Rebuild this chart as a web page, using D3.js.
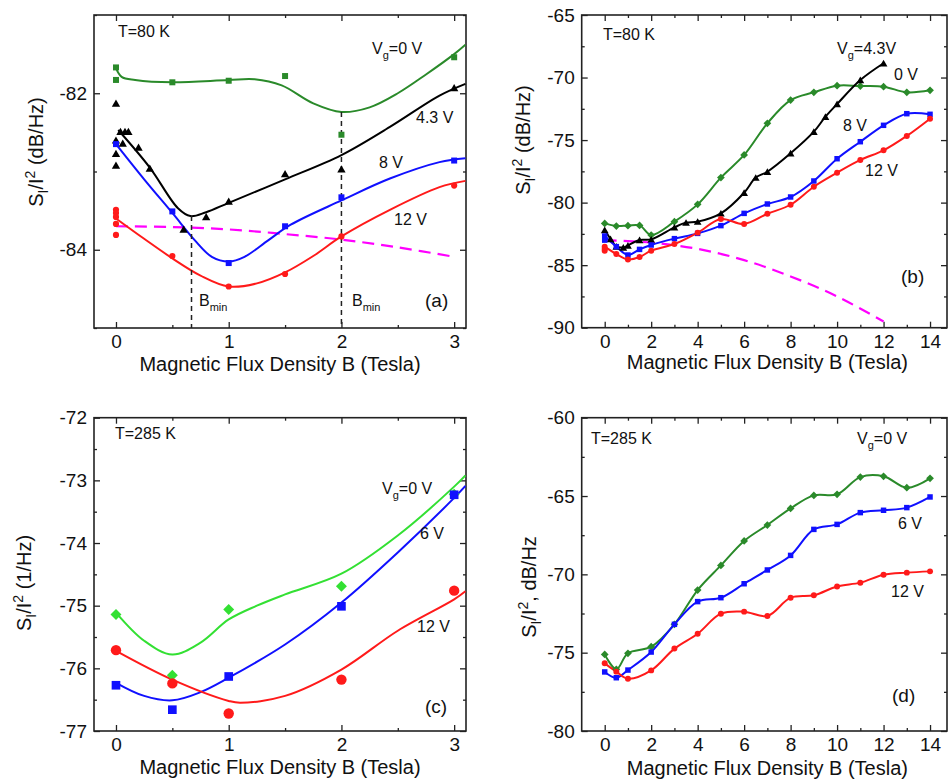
<!DOCTYPE html>
<html><head><meta charset="utf-8">
<script src="https://cdn.jsdelivr.net/npm/d3@7"></script>
<style>body{margin:0;background:#fff}svg{display:block;font-family:"Liberation Sans",Arial,sans-serif}</style>
</head><body>
<script>
// ---------- Panel (a): T=80 K, low field ----------
const aGreenPts = [[0,-81.67],[0,-81.83],[0.5,-81.86],[1,-81.84],[1.5,-81.78],[2,-82.53],[3,-81.54]];
const aBlackPts = [[0,-82.13],[0,-82.6],[0,-82.77],[0,-82.92],[0.04,-82.49],[0.08,-82.49],[0.11,-82.49],[0.06,-82.64],[0.2,-82.69],[0.3,-82.96],[0.6,-83.74],[0.8,-83.58],[1,-83.38],[1.5,-83.03],[2,-82.97],[3,-81.93]];
const aBluePts = [[0,-82.65],[0.5,-83.51],[1,-84.17],[1.5,-83.70],[2,-83.33],[3,-82.86]];
const aRedPts = [[0,-83.49],[0,-83.53],[0,-83.58],[0,-83.67],[0,-83.81],[0.5,-84.08],[1,-84.47],[1.5,-84.31],[2,-83.83],[3,-83.18]];
const aGreenFit = [[0,-81.68],[0.05,-81.79],[0.17,-81.83],[0.5,-81.86],[1,-81.83],[1.23,-81.82],[1.47,-81.9],[1.75,-82.13],[2,-82.24],[2.25,-82.18],[2.5,-82.0],[2.75,-81.76],[3,-81.5],[3.1,-81.38]];
const aBlackFit = [[0.02,-82.47],[0.3,-82.95],[0.55,-83.47],[0.66,-83.57],[0.8,-83.52],[1,-83.4],[1.5,-83.1],[2,-82.79],[2.43,-82.43],[2.87,-82.03],[3.1,-81.88]];
const aBlueFit = [[0,-82.65],[0.25,-83.1],[0.5,-83.53],[0.7,-83.88],[0.85,-84.09],[1,-84.15],[1.14,-84.09],[1.35,-83.88],[1.55,-83.68],[2,-83.37],[2.43,-83.09],[2.87,-82.88],[3.1,-82.83]];
const aRedFit = [[0,-83.6],[0.25,-83.86],[0.5,-84.11],[0.75,-84.33],[1,-84.47],[1.25,-84.43],[1.5,-84.29],[1.75,-84.08],[2,-83.83],[2.43,-83.49],[2.87,-83.2],[3.1,-83.12]];
const aMagenta = [[0,-83.70],[0.5,-83.71],[1,-83.74],[1.5,-83.80],[2,-83.87],[2.5,-83.97],[3,-84.09]];
const aBminX = [0.67, 2];
const aBminTop = [-83.57, -82.24];

// ---------- Panel (b): T=80 K, high field ----------
const bX = [0,0.5,1,1.5,2,3,4,5,6,7,8,9,10,11,12,13,14];
const bGreen = [-81.66,-81.87,-81.84,-81.82,-82.59,-81.52,-80.14,-78.0,-76.19,-73.66,-71.80,-71.18,-70.65,-70.68,-70.73,-71.18,-71.02];
const bBlue = [-82.67,-83.52,-84.19,-83.74,-83.39,-82.88,-82.46,-81.84,-80.86,-80.11,-79.55,-78.27,-76.49,-75.13,-73.82,-72.89,-72.94];
const bRed = [-83.52,-84.11,-84.54,-84.35,-83.84,-83.31,-82.40,-81.31,-81.71,-80.89,-80.17,-78.73,-77.61,-76.59,-75.82,-74.67,-73.29];
const bBlackX = [0,0.25,0.5,0.8,1,1.5,2,3,3.5,4,5,6,6.5,7,8,9,9.5,10,11,12];
const bBlack = [-82.19,-82.9,-83.5,-83.58,-83.42,-82.99,-82.94,-81.98,-81.6,-81.52,-80.86,-79.21,-78.0,-77.53,-76.06,-74.33,-73.13,-72.12,-70.2,-68.86];
const bBlueExtra = [[0,-83.0]];
const bRedExtra = [[0,-83.84],[0,-83.7]];
const bMagenta = [[0,-83.0],[2,-83.2],[4,-83.7],[6,-84.6],[8,-85.9],[10,-87.5],[12,-89.5]];

// ---------- Panel (c): T=285 K, low field ----------
const cX = [0,0.5,1,2,3];
const cGreen = [-75.14,-76.11,-75.06,-74.69,-73.22];
const cBlue = [-76.27,-76.66,-76.13,-75.01,-73.23];
const cRed = [-75.71,-76.24,-76.72,-76.18,-74.76];
const cGreenFit = [[0,-75.11],[0.25,-75.56],[0.5,-75.78],[0.75,-75.59],[1,-75.22],[1.25,-75.0],[1.5,-74.82],[2,-74.49],[2.5,-73.88],[3,-73.1],[3.1,-72.92]];
const cBlueFit = [[0,-76.23],[0.25,-76.44],[0.5,-76.51],[0.75,-76.38],[1,-76.15],[1.5,-75.62],[2,-74.95],[2.5,-74.15],[3,-73.28],[3.1,-73.09]];
const cRedFit = [[0,-75.72],[0.5,-76.18],[1,-76.52],[1.1,-76.55],[1.5,-76.44],[2,-76.02],[2.5,-75.4],[3,-74.9],[3.1,-74.77]];

// ---------- Panel (d): T=285 K, high field ----------
const dX = [0,0.5,1,2,3,4,5,6,7,8,9,10,11,12,13,14];
const dGreen = [-75.11,-76.06,-75.04,-74.62,-73.19,-71.0,-69.43,-67.87,-66.85,-65.79,-64.96,-64.89,-63.79,-63.74,-64.47,-63.87];
const dBlue = [-76.23,-76.60,-76.11,-74.96,-73.19,-71.74,-71.49,-70.60,-69.72,-68.79,-67.13,-66.81,-66.06,-65.91,-65.74,-65.06];
const dRed = [-75.68,-76.21,-76.66,-76.13,-74.74,-73.79,-72.51,-72.38,-72.66,-71.49,-71.34,-70.77,-70.53,-70.02,-69.89,-69.81];

const GREEN = "#2a8a2a", LIME = "#33e033", BLUE = "#1010ff", RED = "#ff1a1a", MAG = "#ff00ff", BLACK = "#000";
const zip = (xs, ys) => xs.map((x, i) => [x, ys[i]]);

const svg = d3.select("body").append("svg").attr("width", 948).attr("height", 782);
const defs = svg.append("defs");
let clipN = 0;

function panel(p) {
  const x = d3.scaleLinear().domain(p.xd).range([p.l, p.r]);
  const y = d3.scaleLinear().domain(p.yd).range([p.b, p.t]);
  const g = svg.append("g");
  const id = "clip" + (clipN++);
  defs.append("clipPath").attr("id", id).append("rect")
    .attr("x", p.l).attr("y", p.t).attr("width", p.r - p.l).attr("height", p.b - p.t);
  const fmt = d => String(d);
  const none = () => "";
  const ax = (gen, tr, vals, size, lab) => g.append("g").attr("transform", tr)
    .call(gen.tickValues(vals).tickSizeInner(-size).tickSizeOuter(0).tickPadding(7).tickFormat(lab ? fmt : none));
  ax(d3.axisBottom(x), `translate(0,${p.b})`, p.xMaj, 6, true);
  ax(d3.axisBottom(x), `translate(0,${p.b})`, p.xMin, 3, false);
  ax(d3.axisTop(x), `translate(0,${p.t})`, p.xMaj, 6, false);
  ax(d3.axisTop(x), `translate(0,${p.t})`, p.xMin, 3, false);
  ax(d3.axisLeft(y), `translate(${p.l},0)`, p.yMaj, 6, true);
  ax(d3.axisLeft(y), `translate(${p.l},0)`, p.yMin, 3, false);
  ax(d3.axisRight(y), `translate(${p.r},0)`, p.yMaj, 6, false);
  ax(d3.axisRight(y), `translate(${p.r},0)`, p.yMin, 3, false);
  g.selectAll(".domain").remove();
  g.selectAll(".tick line").attr("stroke", "#222").attr("stroke-width", 1.3);
  g.selectAll(".tick text").attr("font-size", 19).attr("fill", "#111")
    .attr("font-family", "Liberation Sans, Arial, sans-serif");
  g.append("rect").attr("x", p.l).attr("y", p.t).attr("width", p.r - p.l).attr("height", p.b - p.t)
    .attr("fill", "none").attr("stroke", "#222").attr("stroke-width", 1.6);
  // axis titles
  g.append("text").attr("x", (p.l + p.r) / 2 + (p.xtDx || 0)).attr("y", p.xtY).attr("text-anchor", "middle")
    .attr("font-size", 20).attr("fill", "#111").text("Magnetic Flux Density B (Tesla)");
  const yt = g.append("text").attr("transform", `translate(${p.ytX},${p.ytY}) rotate(-90)`)
    .attr("text-anchor", "middle").attr("font-size", 20).attr("fill", "#111");
  yt.append("tspan").text("S");
  yt.append("tspan").attr("font-size", 14).attr("dy", 5).text("I");
  yt.append("tspan").attr("dy", -5).text("/I");
  yt.append("tspan").attr("font-size", 14).attr("dy", -8).text("2");
  yt.append("tspan").attr("dy", 8).text(p.yUnit);
  const plot = g.append("g").attr("clip-path", `url(#${id})`);
  return { x, y, g, plot };
}

function curve(P, data, color, opts = {}) {
  const line = d3.line().x(d => P.x(d[0])).y(d => P.y(d[1])).curve(d3.curveCatmullRom.alpha(0.5));
  P.plot.append("path").datum(data).attr("d", line).attr("fill", "none")
    .attr("stroke", color).attr("stroke-width", opts.w || 2)
    .attr("stroke-dasharray", opts.dash || null);
}
function marks(P, data, color, type, size) {
  const sym = { square: d3.symbolSquare, circle: d3.symbolCircle, triangle: d3.symbolTriangle, diamond: d3.symbolSquare }[type];
  P.g.append("g").selectAll("path").data(data).join("path")
    .attr("d", d3.symbol(sym, size))
    .attr("transform", d => `translate(${P.x(d[0])},${P.y(d[1])})` + (type === "diamond" ? " rotate(45)" : "") + (type === "triangle" ? " translate(0,1)" : ""))
    .attr("fill", color);
}
function label(P, x, y, parts, size) {
  const t = P.g.append("text").attr("x", x).attr("y", y).attr("font-size", size || 16).attr("fill", "#111");
  parts.forEach(s => {
    if (typeof s === "string") t.append("tspan").text(s);
    else t.append("tspan").attr("font-size", s.fs || 11).attr("dy", s.dy).text(s.t);
  });
  return t;
}
const Vg = (rest) => ["V", { t: "g", dy: 5 }, { t: rest, dy: -5, fs: 16 }];

// ===== (a) =====
const A = panel({ l: 94, r: 466, t: 15, b: 328, xd: [-0.195, 3.105], yd: [-85, -81],
  xMaj: [0, 1, 2, 3], xMin: [0.5, 1.5, 2.5], yMaj: [-84, -82], yMin: [-85, -83, -81],
  xtY: 371, ytX: 43, ytY: 152, yUnit: " (dB/Hz)" });
curve(A, aMagenta, MAG, { dash: "12,7", w: 2.2 });
aBminX.forEach((bx, i) => {
  A.g.append("line").attr("x1", A.x(bx)).attr("x2", A.x(bx)).attr("y1", A.y(aBminTop[i])).attr("y2", 328)
    .attr("stroke", "#222").attr("stroke-width", 1.5).attr("stroke-dasharray", "5,4");
});
curve(A, aGreenFit, GREEN); curve(A, aBlackFit, BLACK); curve(A, aBlueFit, BLUE); curve(A, aRedFit, RED);
marks(A, aGreenPts, GREEN, "square", 36);
marks(A, aBlackPts, BLACK, "triangle", 30);
marks(A, aBluePts, BLUE, "square", 36);
marks(A, aRedPts, RED, "circle", 30);
label(A, 118, 37, ["T=80 K"], 16);
label(A, 372, 54, Vg("=0 V"), 16);
label(A, 416, 123, ["4.3 V"], 16);
label(A, 379, 168, ["8 V"], 16);
label(A, 394, 225, ["12 V"], 16);
label(A, 425, 307, ["(a)"], 19);
label(A, 199, 306, ["B", { t: "min", dy: 5, fs: 11 }], 16);
label(A, 352, 306, ["B", { t: "min", dy: 5, fs: 11 }], 16);

// ===== (b) =====
const B = panel({ l: 581.7, r: 947, t: 15, b: 327.7, xd: [-0.99, 14.73], yd: [-90, -65],
  xMaj: [0, 2, 4, 6, 8, 10, 12, 14], xMin: [1, 3, 5, 7, 9, 11, 13], yMaj: [-90, -85, -80, -75, -70, -65], yMin: [-87.5, -82.5, -77.5, -72.5, -67.5],
  xtY: 369, xtDx: 3, ytX: 530, ytY: 140, yUnit: " (dB/Hz)" });
curve(B, bMagenta, MAG, { dash: "12,7", w: 2.2 });
curve(B, zip(bX, bGreen), GREEN); curve(B, zip(bBlackX, bBlack), BLACK);
curve(B, zip(bX, bBlue), BLUE); curve(B, zip(bX, bRed), RED);
marks(B, zip(bX, bGreen), GREEN, "diamond", 30);
marks(B, zip(bBlackX, bBlack), BLACK, "triangle", 26);
marks(B, zip(bX, bBlue).concat(bBlueExtra), BLUE, "square", 30);
marks(B, zip(bX, bRed).concat(bRedExtra), RED, "circle", 28);
label(B, 603, 40, ["T=80 K"], 16);
label(B, 837, 54, Vg("=4.3V"), 16);
label(B, 894, 80, ["0 V"], 16);
label(B, 843, 131, ["8 V"], 16);
label(B, 865, 176, ["12 V"], 16);
label(B, 901, 283, ["(b)"], 19);

// ===== (c) =====
const C = panel({ l: 94, r: 466, t: 417.7, b: 731, xd: [-0.195, 3.105], yd: [-77, -72],
  xMaj: [0, 1, 2, 3], xMin: [0.5, 1.5, 2.5], yMaj: [-77, -76, -75, -74, -73, -72], yMin: [-76.5, -75.5, -74.5, -73.5, -72.5],
  xtY: 774, ytX: 31, ytY: 583, yUnit: " (1/Hz)" });
curve(C, cGreenFit, LIME); curve(C, cBlueFit, BLUE); curve(C, cRedFit, RED);
marks(C, zip(cX, cGreen), LIME, "diamond", 60);
marks(C, zip(cX, cBlue), BLUE, "square", 75);
marks(C, zip(cX, cRed), RED, "circle", 85);
label(C, 115, 439, ["T=285 K"], 16);
label(C, 382, 494, Vg("=0 V"), 16);
label(C, 420, 539, ["6 V"], 16);
label(C, 417, 632, ["12 V"], 16);
label(C, 425, 713, ["(c)"], 19);

// ===== (d) =====
const D = panel({ l: 581.7, r: 947, t: 417.7, b: 731, xd: [-0.99, 14.73], yd: [-80, -60],
  xMaj: [0, 2, 4, 6, 8, 10, 12, 14], xMin: [1, 3, 5, 7, 9, 11, 13], yMaj: [-80, -75, -70, -65, -60], yMin: [-77.5, -72.5, -67.5, -62.5],
  xtY: 775, xtDx: 3, ytX: 536, ytY: 587, yUnit: ", dB/Hz" });
curve(D, zip(dX, dGreen), GREEN); curve(D, zip(dX, dBlue), BLUE); curve(D, zip(dX, dRed), RED);
marks(D, zip(dX, dGreen), GREEN, "diamond", 30);
marks(D, zip(dX, dBlue), BLUE, "square", 30);
marks(D, zip(dX, dRed), RED, "circle", 28);
label(D, 591, 444, ["T=285 K"], 16);
label(D, 857, 444, Vg("=0 V"), 16);
label(D, 898, 529, ["6 V"], 16);
label(D, 891, 597, ["12 V"], 16);
label(D, 892, 702, ["(d)"], 19);
</script>
</body></html>
